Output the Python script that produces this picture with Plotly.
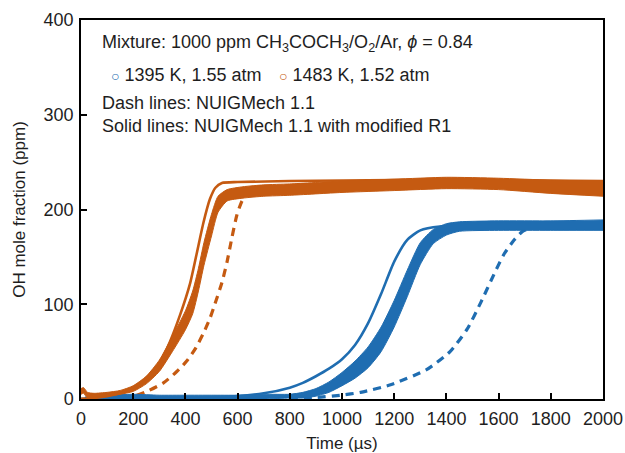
import plotly.graph_objects as go

# ---- OH time histories, 1000 ppm acetone / O2 / Ar, phi = 0.84 ----
# 1483 K, 1.52 atm : measured band (upper / lower edges of the overlapping runs)
t_exp_1483 = [0, 10, 25, 50, 100, 150, 200, 250, 300, 350, 400, 428, 450, 471, 500, 525, 560, 620,
              700, 800, 1000, 1200, 1400, 1600, 1800, 2000]
oh_exp_1483_hi = [11, 12, 7, 6, 7, 9, 14, 24, 41, 66, 93, 114, 138, 165, 195, 214, 221, 224,
                  226, 227, 230, 232, 234, 233, 231, 230]
oh_exp_1483_lo = [5, 6, 1, 2, 3, 5, 8, 16, 29, 50, 73, 90, 114, 141, 172, 197, 209, 212,
                  214, 215, 218, 220, 222, 221, 217, 214]

# 1483 K : NUIGMech 1.1 with modified R1 (solid)
t_mod_1483 = [0, 50, 100, 150, 200, 250, 300, 340, 380, 418, 443, 469, 494, 515, 540, 600,
              800, 1200, 1600, 2000]
oh_mod_1483 = [0, 1, 3, 6, 12, 22, 38, 60, 89, 122, 153, 186, 211, 223, 228, 229,
               230, 231, 231, 230]

# 1483 K : NUIGMech 1.1 (dashed)
t_base_1483 = [0, 100, 200, 252, 316, 367, 405, 440, 470, 494, 514, 540, 559, 578, 597, 617,
               640, 680, 800, 1000, 1200, 1400, 1600, 1800, 2000]
oh_base_1483 = [0, 0.5, 3, 8, 17, 29, 40, 54, 70, 85, 101, 123, 144, 170, 194, 209,
                218, 222, 225, 227, 228, 229, 228, 226, 224]

# 1395 K, 1.55 atm : measured band
t_exp_1395 = [15, 100, 200, 300, 400, 500, 600, 700, 800, 850, 900, 950, 1000, 1050, 1100, 1150,
              1200, 1250, 1300, 1350, 1400, 1450, 1600, 1800, 2000]
oh_exp_1395_hi = [2, 4, 5, 4, 4, 4, 4, 5, 5, 7, 11, 18, 28, 40, 55, 76,
                  104, 136, 165, 179, 185, 187, 188, 188, 189]
oh_exp_1395_lo = [0, 0, 0, 0, 0, 0, 0, 0, 1, 1, 3, 7, 14, 22, 33, 50,
                  76, 108, 142, 164, 173, 177, 178, 178, 178]

# 1395 K : NUIGMech 1.1 with modified R1 (solid)
t_mod_1395 = [0, 300, 500, 600, 700, 800, 850, 900, 950, 1000, 1050, 1100, 1150, 1200, 1250,
              1300, 1375, 1500, 2000]
oh_mod_1395 = [0, 1, 2, 3, 6, 12, 17, 24, 32, 42, 57, 80, 111, 145, 168,
               178, 182, 183, 183]

# 1395 K : NUIGMech 1.1 (dashed)
t_base_1395 = [800, 900, 994, 1071, 1186, 1324, 1414, 1480, 1532, 1583, 1621, 1660, 1692, 1730,
               1800, 2000]
oh_base_1395 = [0, 1.5, 4, 7, 15, 31, 50, 74, 102, 132, 153, 168, 177, 181, 182, 183]

# tick values
x_ticks = [0, 200, 400, 600, 800, 1000, 1200, 1400, 1600, 1800, 2000]
y_ticks = [0, 100, 200, 300, 400]

ORANGE = "#C55A11"
BLUE = "#1F6DB1"
TEXT = "#1E1E1E"
FONT = "Liberation Sans, Arial, sans-serif"

fig = go.Figure()


def add_band(t, lo, hi, color):
    fig.add_trace(go.Scatter(x=t, y=lo, mode="lines", line=dict(color=color, width=1,
                             shape="spline", smoothing=0.6), showlegend=False, hoverinfo="skip"))
    fig.add_trace(go.Scatter(x=t, y=hi, mode="lines", line=dict(color=color, width=1,
                             shape="spline", smoothing=0.6), fill="tonexty", fillcolor=color,
                             showlegend=False, hoverinfo="skip"))


def add_line(t, y, color, dash):
    fig.add_trace(go.Scatter(x=t, y=y, mode="lines",
                             line=dict(color=color, width=2.6 if dash == "solid" else 3.2,
                                       dash=dash, shape="spline", smoothing=0.6),
                             showlegend=False, hoverinfo="skip"))


add_line(t_base_1395, oh_base_1395, BLUE, "8px,6px")
add_line(t_base_1483, oh_base_1483, ORANGE, "8px,6px")
add_line(t_mod_1395, oh_mod_1395, BLUE, "solid")
add_band(t_exp_1395, oh_exp_1395_lo, oh_exp_1395_hi, BLUE)
add_line(t_mod_1483, oh_mod_1483, ORANGE, "solid")
add_band(t_exp_1483, oh_exp_1483_lo, oh_exp_1483_hi, ORANGE)

notes = [
    (0.036, 0.937, "Mixture: 1000 ppm CH<sub>3</sub>COCH<sub>3</sub>/O<sub>2</sub>/Ar, <i>ϕ</i> = 0.84"),
    (0.036, 0.781, "Dash lines: NUIGMech 1.1"),
    (0.036, 0.720, "Solid lines: NUIGMech 1.1 with modified R1"),
]
annotations = [dict(x=x, y=y, xref="paper", yref="paper", text=s, showarrow=False,
                    xanchor="left", yanchor="middle", font=dict(size=18, color=TEXT, family=FONT))
               for x, y, s in notes]
legend_items = [(0.054, BLUE, "1395 K, 1.55 atm"), (0.375, ORANGE, "1483 K, 1.52 atm")]
for x, c, s in legend_items:
    annotations.append(dict(x=x, y=0.855, xref="paper", yref="paper",
                            text=f"<span style='color:{c};font-size:14px'>○</span> {s}",
                            showarrow=False, xanchor="left", yanchor="middle",
                            font=dict(size=18, color=TEXT, family=FONT)))

axis_common = dict(showline=True, linecolor="black", linewidth=1.5, mirror=True,
                   ticks="inside", ticklen=6, tickwidth=1.5, tickcolor="black",
                   showgrid=False, zeroline=False, automargin=False,
                   tickfont=dict(size=18, color=TEXT, family=FONT))

fig.update_layout(
    width=625, height=453,
    margin=dict(l=81, r=22, t=20, b=54),
    paper_bgcolor="white", plot_bgcolor="white",
    showlegend=False,
    annotations=annotations,
    xaxis=dict(range=[0, 2000], tickvals=x_ticks, ticklabelstandoff=3,
               title=dict(text="Time (µs)", font=dict(size=17, color=TEXT, family=FONT), standoff=14),
               **axis_common),
    yaxis=dict(range=[0, 400], tickvals=y_ticks, ticklabelstandoff=2,
               title=dict(text="OH mole fraction (ppm)", font=dict(size=17, color=TEXT, family=FONT),
                          standoff=14),
               **axis_common),
)

fig.write_html("out.html")
